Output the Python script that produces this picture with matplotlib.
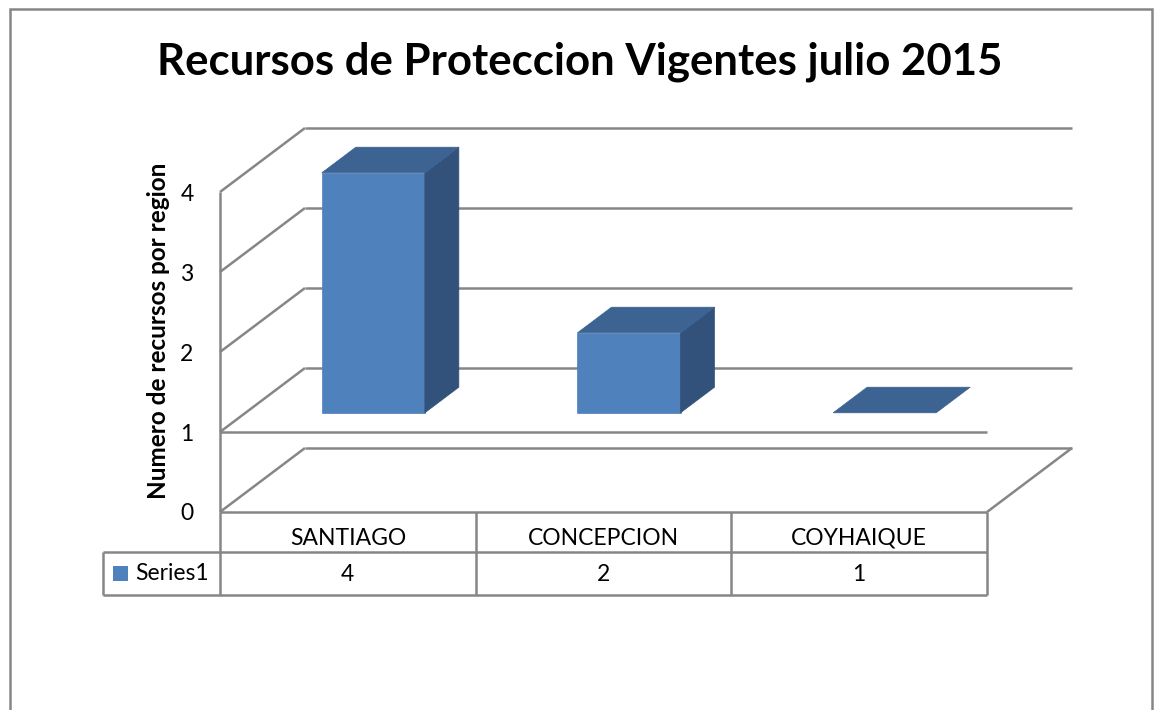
import numpy as np
import matplotlib
matplotlib.use('Agg')
import matplotlib.pyplot as plt
from matplotlib.patches import Polygon, Rectangle

## data
categories = ['SANTIAGO', 'CONCEPCION', 'COYHAIQUE']
values = [4, 2, 1]
series_name = 'Series1'
yticks = [0, 1, 2, 3, 4]
title = 'Recursos de Proteccion Vigentes julio 2015'
ylabel = 'Numero de recursos por region'

plt.rcParams['font.family'] = ['Lato', 'DejaVu Sans']

W, H = 1157, 710
fig = plt.figure(figsize=(W / 100, H / 100), dpi=100)

grid_c = '#868686'
front_c = '#4F81BD'
top_c = '#3C6391'
side_c = '#32527B'

# front plane of the 3d plot (pixels)
x0, x1 = 220, 987
yb, yt = 512, 192
ax = fig.add_axes([x0 / W, 1 - yb / H, (x1 - x0) / W, (yb - yt) / H])
n = len(categories)
ax.set_xlim(0, n)
ax.set_ylim(yticks[0], yticks[-1])

# depth of the back wall in data units
DX = 85 / ((x1 - x0) / n)
DY = 64 / ((yb - yt) / (yticks[-1] - yticks[0]))


def P(x, v, d):
    return (x + d * DX, v + d * DY)


def line(a, b, **kw):
    ax.plot([a[0], b[0]], [a[1], b[1]], color=grid_c, lw=1.8,
            clip_on=False, solid_capstyle='butt', **kw)


# walls / gridlines
for v in yticks:
    line(P(0, v, 1), P(n, v, 1), zorder=1)
    line(P(0, v, 0), P(0, v, 1), zorder=1)
line(P(0, yticks[0], 0), P(0, yticks[-1], 0), zorder=1)
line(P(0, yticks[0], 0), P(n, yticks[0], 0), zorder=1)
line(P(n, yticks[0], 0), P(n, yticks[0], 1), zorder=1)
base = 1  # horizontal axis crosses at 1
line(P(0, base, 0), P(n, base, 0), zorder=1)

# bars
hw = 0.2015
d0, d1 = 0.30, 0.70
for i, v in enumerate(values):
    c = i + 0.5
    l, r = c - hw, c + hw
    if v != base:
        ax.add_patch(Polygon([P(l, base, d0), P(r, base, d0), P(r, v, d0), P(l, v, d0)],
                             closed=True, fc=front_c, ec=front_c, lw=0.5, zorder=3, clip_on=False))
        ax.add_patch(Polygon([P(r, base, d0), P(r, base, d1), P(r, v, d1), P(r, v, d0)],
                             closed=True, fc=side_c, ec=side_c, lw=0.5, zorder=3, clip_on=False))
    ax.add_patch(Polygon([P(l, v, d0), P(r, v, d0), P(r, v, d1), P(l, v, d1)],
                         closed=True, fc=top_c, ec=top_c, lw=0.5, zorder=3, clip_on=False))

ax.set_yticks(yticks)
ax.set_yticklabels([str(t) for t in yticks], fontsize=16.5)
ax.tick_params(axis='y', length=0, pad=19)
ax.set_xticks([])
for s in ax.spines.values():
    s.set_visible(False)
ax.patch.set_alpha(0)

# data table
v_row = -0.5
v_bot = -1.04
leg_l = -0.458
for k in range(n + 1):
    line((k, 0), (k, v_bot))
line((leg_l, v_row), (leg_l, v_bot))
line((leg_l, v_row), (n, v_row))
line((leg_l, v_bot), (n, v_bot))
for i, (cat, v) in enumerate(zip(categories, values)):
    ax.text(i + 0.5, -0.33, cat, ha='center', va='center', fontsize=16.5)
    ax.text(i + 0.5, -0.78, str(v), ha='center', va='center', fontsize=16.5)
ax.add_patch(Rectangle((leg_l + 0.04, -0.86), 0.058, 0.18, fc=front_c, ec='none', clip_on=False))
ax.text(leg_l + 0.125, -0.77, series_name, ha='left', va='center', fontsize=16.5)

# title, axis label, outer border
fig.text(580 / W, 1 - 62 / H, title, ha='center', va='center', fontsize=31.5, fontweight='bold')
fig.text(158 / W, 1 - 331 / H, ylabel, ha='center', va='center', rotation=90,
         fontsize=17.5, fontweight='bold')
fig.patches.append(Rectangle((10 / W, -0.05), 1142 / W, 1.05 - 9 / H, transform=fig.transFigure,
                             fill=False, ec=grid_c, lw=1.8))

plt.savefig('out.png', dpi=100)
